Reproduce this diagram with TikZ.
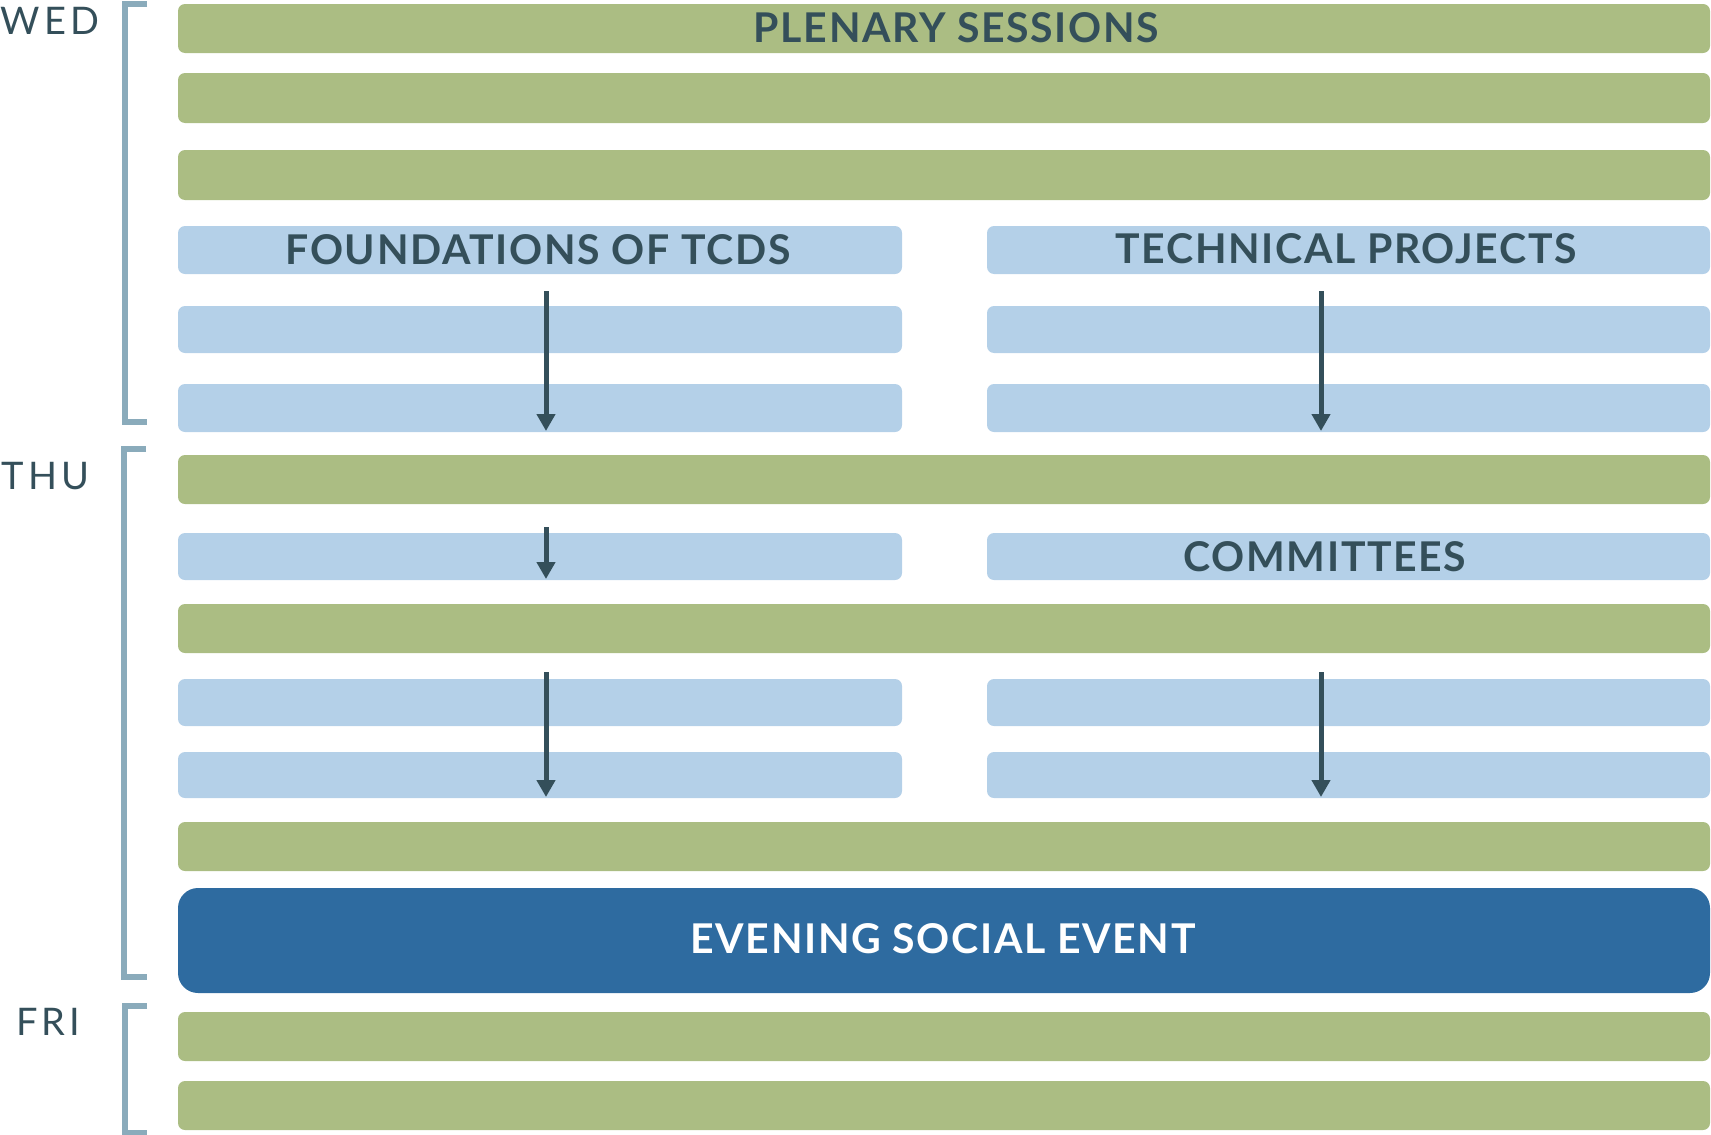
\documentclass[tikz,border=0pt]{standalone}
\usepackage{fontspec}
\setmainfont{Lato}
\newfontfamily\lblfont[LetterSpace=4]{Lato}
\newfontfamily\dayfont[LetterSpace=10.5]{Lato}
\usetikzlibrary{arrows.meta}
\definecolor{sgreen}{HTML}{ABBD83}
\definecolor{sblue}{HTML}{B4D0E8}
\definecolor{dblue}{HTML}{2E6BA0}
\definecolor{brk}{HTML}{8AABBB}
\definecolor{ink}{HTML}{344F5A}
\tikzset{
  bar/.style={rectangle, rounded corners=7pt, inner sep=0pt, outer sep=0pt, anchor=north west},
  gbar/.style={bar, fill=sgreen, minimum width=1532pt},
  lbar/.style={bar, fill=sblue, minimum width=724pt},
  rbar/.style={bar, fill=sblue, minimum width=723pt},
  lbl/.style={inner sep=0pt, text=ink, font=\lblfont\fontsize{41}{41}\selectfont\bfseries},
  daylbl/.style={inner sep=0pt, text=ink, font=\dayfont\fontsize{38}{38}\selectfont},
  bracket/.style={draw=brk, line width=6pt},
  flow/.style={draw=ink, line width=5pt, -{Triangle[width=18pt,length=17pt]}}
}
\begin{document}
\begin{tikzpicture}[x=1pt,y=-1pt]
\useasboundingbox (0,0) rectangle (1711,1135);
% bars
\node[gbar, minimum height=49pt] (g1) at (178,4) {};
\node[gbar, minimum height=50pt] (g2) at (178,73) {};
\node[gbar, minimum height=50pt] (g3) at (178,150) {};
\node[lbar, minimum height=48pt] (b1l) at (178,226) {};
\node[rbar, minimum height=48pt] (b1r) at (987,226) {};
\node[lbar, minimum height=47pt] (b2l) at (178,306) {};
\node[rbar, minimum height=47pt] (b2r) at (987,306) {};
\node[lbar, minimum height=48pt] (b3l) at (178,384) {};
\node[rbar, minimum height=48pt] (b3r) at (987,384) {};
\node[gbar, minimum height=49pt] (g4) at (178,455) {};
\node[lbar, minimum height=47pt] (b4l) at (178,533) {};
\node[rbar, minimum height=47pt] (b4r) at (987,533) {};
\node[gbar, minimum height=49pt] (g5) at (178,604) {};
\node[lbar, minimum height=47pt] (b5l) at (178,679) {};
\node[rbar, minimum height=47pt] (b5r) at (987,679) {};
\node[lbar, minimum height=46pt] (b6l) at (178,752) {};
\node[rbar, minimum height=46pt] (b6r) at (987,752) {};
\node[gbar, minimum height=49pt] (g6) at (178,822) {};
\node[bar, fill=dblue, rounded corners=20pt, minimum width=1532pt, minimum height=105pt] (ev) at (178,888) {};
\node[gbar, minimum height=49pt] (g7) at (178,1012) {};
\node[gbar, minimum height=49pt] (g8) at (178,1081) {};
% labels
\node[lbl] (tplen) at (956.5,28) {PLENARY SESSIONS};
\node[lbl] (tfound) at (538,250) {FOUNDATIONS OF TCDS};
\node[lbl] (ttech) at (1346,249) {TECHNICAL PROJECTS};
\node[lbl] (tcomm) at (1325,556.5) {COMMITTEES};
\node[lbl, text=white] (tev) at (943,938.5) {EVENING SOCIAL EVENT};
% day labels
\node[daylbl] (wed) at (50,21) {WED};
\node[daylbl] (thu) at (45.5,476.5) {THU};
\node[daylbl] (fri) at (48,1022) {FRI};
% brackets
\draw[bracket] (147,4) -- (125,4) -- (125,421.5) -- (147,421.5);
\draw[bracket] (146,449) -- (124,449) -- (124,976.5) -- (147,976.5);
\draw[bracket] (147,1005.5) -- (125,1005.5) -- (125,1133) -- (147,1133);
% arrows
\coordinate (a1s) at (546,291); \coordinate (a1e) at (546,431);
\coordinate (a2s) at (1321,291); \coordinate (a2e) at (1321,431);
\coordinate (a3s) at (546,527); \coordinate (a3e) at (546,579);
\coordinate (a4s) at (546,672); \coordinate (a4e) at (546,797);
\coordinate (a5s) at (1321,672); \coordinate (a5e) at (1321,797);
\draw[flow] (a1s) -- (a1e);
\draw[flow] (a2s) -- (a2e);
\draw[flow] (a3s) -- (a3e);
\draw[flow] (a4s) -- (a4e);
\draw[flow] (a5s) -- (a5e);
\end{tikzpicture}
\end{document}
